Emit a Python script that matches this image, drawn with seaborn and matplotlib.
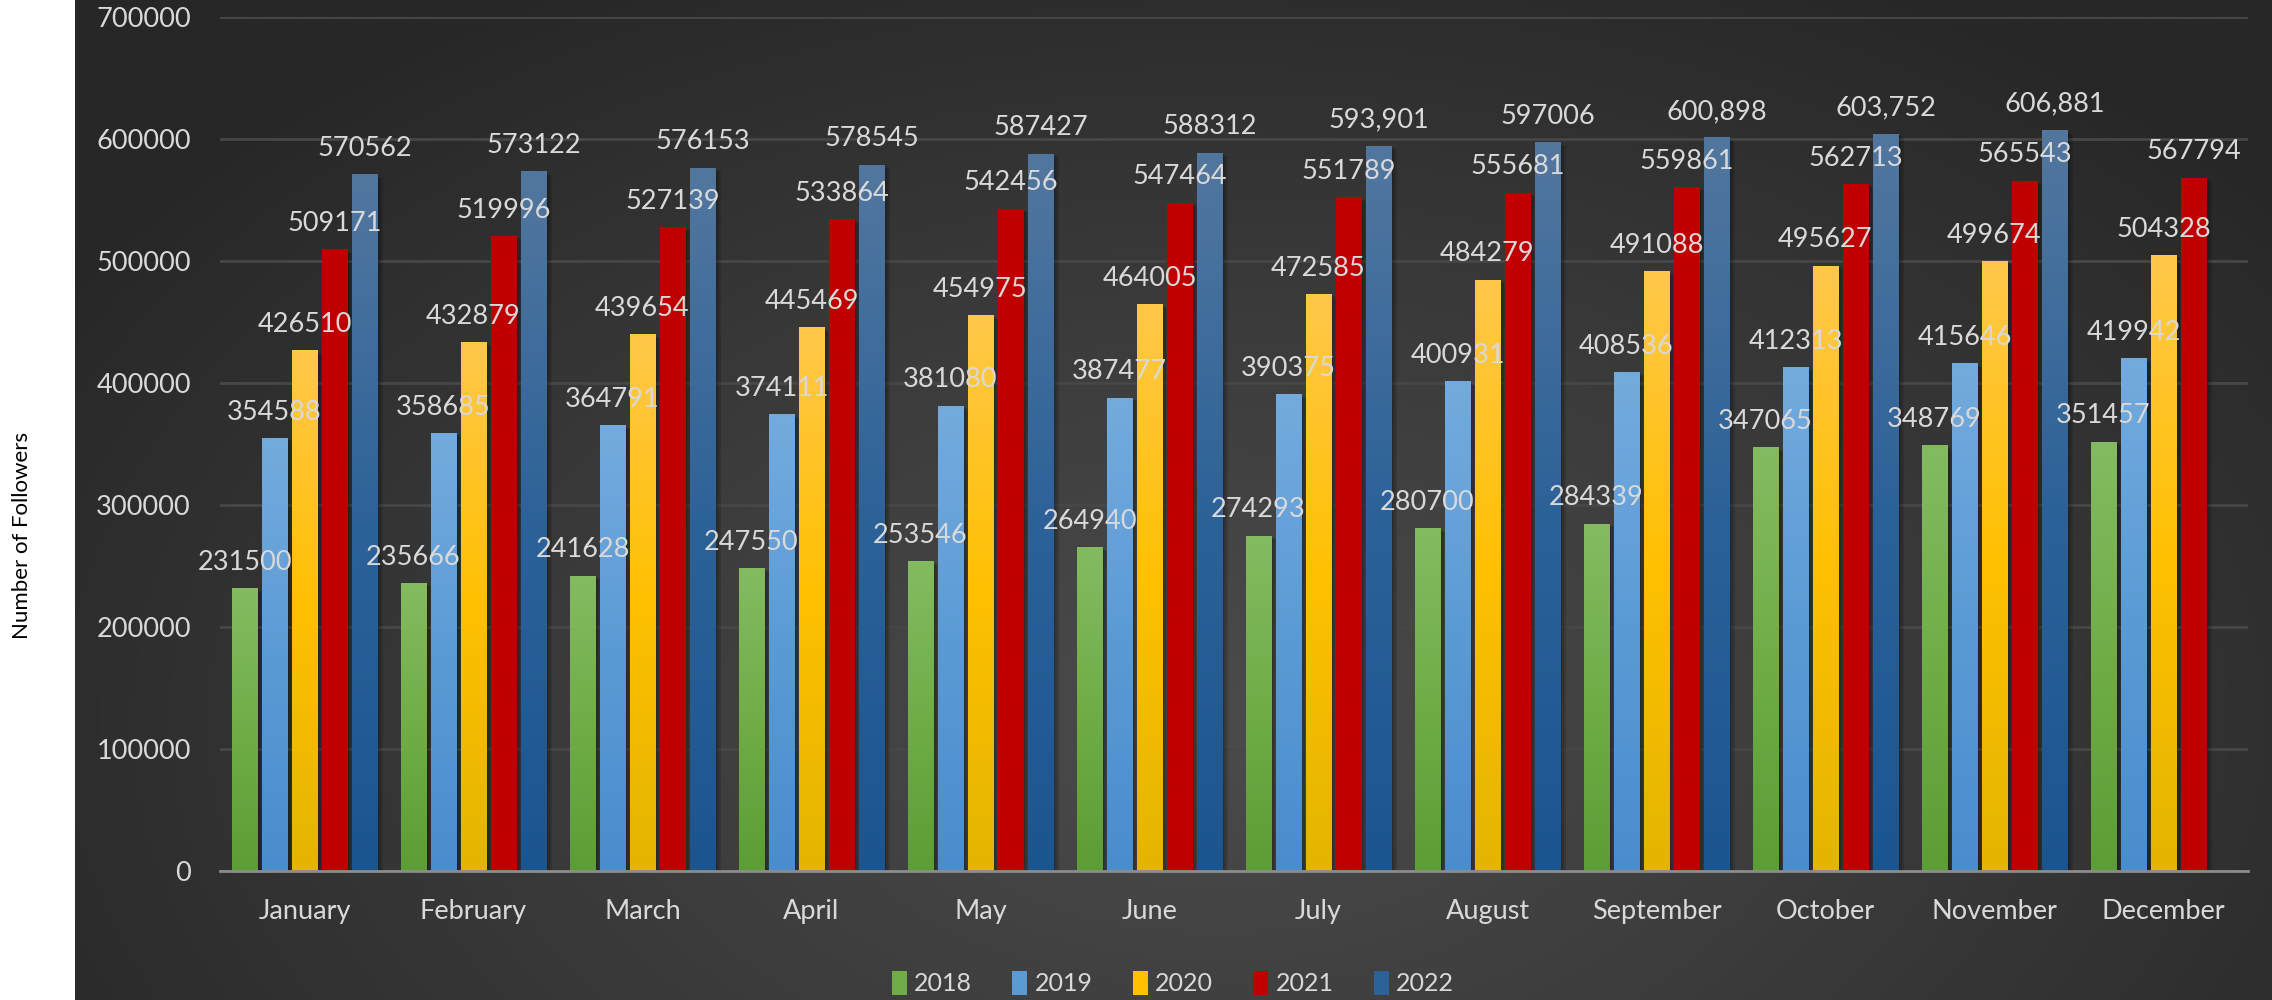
import numpy as np
import pandas as pd
import matplotlib
matplotlib.use("Agg")
import matplotlib.pyplot as plt
import seaborn as sns
from matplotlib.colors import LinearSegmentedColormap
from matplotlib.patches import Rectangle
from matplotlib import transforms

# ---- data -------------------------------------------------------------
months = ["January", "February", "March", "April", "May", "June", "July",
          "August", "September", "October", "November", "December"]
years = ["2018", "2019", "2020", "2021", "2022"]

followers_2018 = [231500, 235666, 241628, 247550, 253546, 264940, 274293,
                  280700, 284339, 347065, 348769, 351457]
followers_2019 = [354588, 358685, 364791, 374111, 381080, 387477, 390375,
                  400931, 408536, 412313, 415646, 419942]
followers_2020 = [426510, 432879, 439654, 445469, 454975, 464005, 472585,
                  484279, 491088, 495627, 499674, 504328]
followers_2021 = [509171, 519996, 527139, 533864, 542456, 547464, 551789,
                  555681, 559861, 562713, 565543, 567794]
followers_2022 = [570562, 573122, 576153, 578545, 587427, 588312, 593901,
                  597006, 600898, 603752, 606881, np.nan]
# 2022 labels that are printed with a thousands separator
comma_2022 = [False, False, False, False, False, False, True,
              False, True, True, True, False]

yticks = [0, 100000, 200000, 300000, 400000, 500000, 600000, 700000]

# gradient stops per series: top, middle, bottom
series_colors = {
    "2018": ("#84bb62", "#70ad47", "#5c9d36"),
    "2019": ("#74abde", "#5b9bd5", "#4a8dce"),
    "2020": ("#ffc84a", "#ffc000", "#e3b500"),
    "2021": ("#c00000", "#c00000", "#c00000"),
    "2022": ("#52779f", "#2d6299", "#1b5590"),
}

# ---- frame ------------------------------------------------------------
series = [followers_2018, followers_2019, followers_2020, followers_2021, followers_2022]
rows = []
for yr, vals in zip(years, series):
    for m, v in zip(months, vals):
        rows.append({"month": m, "year": yr, "followers": v})
df = pd.DataFrame(rows).dropna()

sns.set_theme(style="white")
plt.rcParams["font.family"] = ["Lato", "DejaVu Sans"]

W, H = 2272, 1000
fig = plt.figure(figsize=(W / 100, H / 100), dpi=100, facecolor="white")

# dark panel with a soft radial glow
bg = fig.add_axes([75 / W, 0, 1 - 75 / W, 1], zorder=0)
yy, xx = np.mgrid[0:1:400j, 0:1:900j]
d = np.sqrt(((xx - 0.52) / 0.62) ** 2 + ((yy - 0.28) / 0.85) ** 2)
t = np.clip(d, 0, 1) ** 1.1
c_in, c_out = 0x4b / 255, 0x27 / 255
g = c_in * (1 - t) + c_out * t
bg.imshow(np.dstack([g, g, g]), origin="lower", aspect="auto",
          extent=[0, 1, 0, 1], interpolation="bicubic")
bg.set_axis_off()

ax = fig.add_axes([220 / W, 1 - 871 / H, (2248 - 220) / W, (871 - 17) / H], zorder=1)
ax.set_facecolor("none")

slot_width = 0.887
bar_w = 0.148
sns.barplot(data=df, x="month", y="followers", hue="year", order=months,
            hue_order=years, palette={y: series_colors[y][1] for y in years},
            width=slot_width, errorbar=None, saturation=1, legend=False,
            ax=ax, zorder=3)

grad = np.linspace(0, 1, 256).reshape(-1, 1)
shadow_offsets = [(2, -1), (4, -2), (6, -3)]
for container, yr in zip(ax.containers, years):
    top, mid, bot = series_colors[yr]
    cmap = LinearSegmentedColormap.from_list("g" + yr, [bot, mid, top])
    for bar in container:
        h = bar.get_height()
        if not np.isfinite(h) or h <= 0:
            continue
        cx = bar.get_x() + bar.get_width() / 2
        x0 = cx - bar_w / 2
        bar.set_x(x0)
        bar.set_width(bar_w)
        bar.set_edgecolor("none")
        for ox, oy in shadow_offsets:
            tr = transforms.offset_copy(ax.transData, fig=fig, x=ox, y=oy, units="dots")
            ax.add_patch(Rectangle((x0, 0), bar_w, h, transform=tr,
                                   facecolor="black", edgecolor="none",
                                   alpha=0.13, zorder=2))
        ax.imshow(grad, cmap=cmap, extent=[x0, x0 + bar_w, 0, h], origin="lower",
                  aspect="auto", interpolation="bicubic", zorder=3.5)
        idx = int(round(cx))
        if yr == "2022" and comma_2022[idx]:
            txt = f"{h:,.0f}"
        else:
            txt = f"{h:.0f}"
        ax.annotate(txt, (cx, h), xytext=(0, 10), textcoords="offset points",
                    ha="center", va="bottom", fontsize=19.5, color="#d9d9d9",
                    zorder=10, annotation_clip=False)

ax.set_xlim(-0.5, len(months) - 0.5)
ax.set_ylim(0, 700000)
ax.set_yticks(yticks)
ax.set_yticklabels([str(v) for v in yticks])
ax.yaxis.grid(True, color="#474747", linewidth=2, zorder=1)
ax.set_axisbelow(True)
ax.tick_params(axis="both", length=0, labelsize=19.5, colors="#d9d9d9")
ax.tick_params(axis="y", pad=21)
ax.tick_params(axis="x", pad=20)
for s in ["left", "right", "top"]:
    ax.spines[s].set_visible(False)
ax.spines["bottom"].set_color("#8c8c8c")
ax.spines["bottom"].set_linewidth(2)
ax.spines["bottom"].set_zorder(5)
ax.set_xlabel("")
ax.set_ylabel("")

fig.text(22 / W, 0.465, "Number of Followers", rotation=90, ha="center",
         va="center", fontsize=16, color="black")

handles = [Rectangle((0, 0), 1, 1, facecolor=series_colors[y][1], edgecolor="none")
           for y in years]
leg = fig.legend(handles, years, loc="center", bbox_to_anchor=(1173 / W, 0.017),
                 ncol=5, frameon=False, fontsize=18, handlelength=0.6,
                 handleheight=1.1, handletextpad=0.3, columnspacing=1.6,
                 labelcolor="#d9d9d9")

fig.savefig("out.png", dpi=100, facecolor="white")
